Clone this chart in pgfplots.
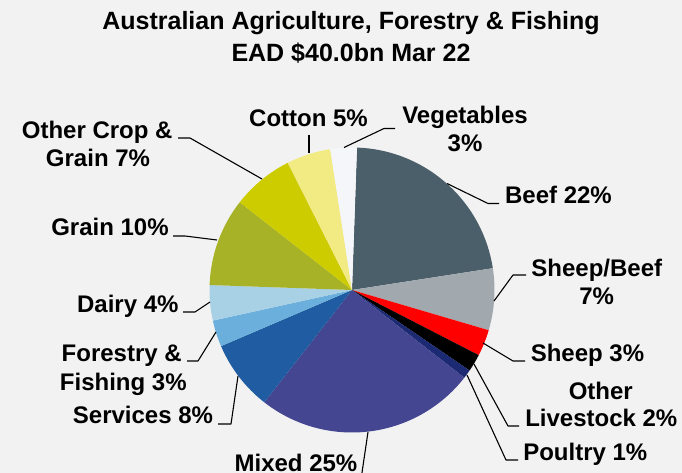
\documentclass[border=0pt]{standalone}
\usepackage{pgfplots}
\usepackage{pgfplotstable}
\pgfplotsset{compat=1.18}
\usepackage{fontspec}
\setmainfont{Liberation Sans}

\definecolor{bg}{HTML}{F2F2F2}
\definecolor{c0}{HTML}{4B5F6B}
\definecolor{c1}{HTML}{A2A9AE}
\definecolor{c2}{HTML}{FF0000}
\definecolor{c3}{HTML}{000000}
\definecolor{c4}{HTML}{1B2A72}
\definecolor{c5}{HTML}{454691}
\definecolor{c6}{HTML}{1F5CA1}
\definecolor{c7}{HTML}{6BAFDC}
\definecolor{c8}{HTML}{A9D1E5}
\definecolor{c9}{HTML}{A7B226}
\definecolor{c10}{HTML}{CCCC00}
\definecolor{c11}{HTML}{F2EA82}
\definecolor{c12}{HTML}{F4F6F9}

% share of EAD, %, clockwise from the top
\pgfplotstableread{
segment value
Beef 22
SheepBeef 7
Sheep 3
OtherLivestock 2
Poultry 1
Mixed 25
Services 8
ForestryFishing 3
Dairy 4
Grain 10
OtherCrop 7
Cotton 5
Vegetables 3
}\piedata

\newcommand\lab{\fontsize{24}{28}\selectfont\bfseries}
\newcommand\ttl{\fontsize{25}{30}\selectfont\bfseries}

\begin{document}
\begin{tikzpicture}
% cumulative angles
\gdef\cum{88}
\pgfplotsforeachungrouped \i in {0,...,12}{%
  \pgfplotstablegetelem{\i}{value}\of\piedata
  \pgfmathsetmacro\endang{\cum-3.6*\pgfplotsretval}%
  \expandafter\xdef\csname sa\i\endcsname{\cum}%
  \expandafter\xdef\csname ea\i\endcsname{\endang}%
  \xdef\cum{\endang}%
}
\begin{axis}[
  width=682pt, height=473pt, scale only axis,
  xmin=0, xmax=682, ymin=0, ymax=473, y dir=reverse,
  hide axis, clip=true,
]
\fill[bg] (axis cs:0,0) rectangle (axis cs:682,473);
\pgfplotsinvokeforeach{0,...,12}{
  \fill[c#1] (axis cs:352,290) -- ++(\csname sa#1\endcsname:142.5pt)
     arc[start angle=\csname sa#1\endcsname, end angle=\csname ea#1\endcsname, radius=142.5pt] -- cycle;
}
% title
\node[anchor=base, font=\ttl] at (axis cs:351,30) {Australian Agriculture, Forestry \& Fishing};
\node[anchor=base, font=\ttl] at (axis cs:351,62) {EAD \$40.0bn Mar 22};
% labels
\node[anchor=base, font=\lab] at (axis cs:97.2,138.3) {Other Crop \&};
\node[anchor=base, font=\lab] at (axis cs:98,166.7) {Grain 7\%};
\node[anchor=base, font=\lab] at (axis cs:110,235.7) {Grain 10\%};
\node[anchor=base, font=\lab] at (axis cs:127.8,312.3) {Dairy 4\%};
\node[anchor=base, font=\lab] at (axis cs:121.7,361.7) {Forestry \&};
\node[anchor=base, font=\lab] at (axis cs:123.3,390) {Fishing 3\%};
\node[anchor=base, font=\lab] at (axis cs:143,423) {Services 8\%};
\node[anchor=base, font=\lab] at (axis cs:296,471) {Mixed 25\%};
\node[anchor=base, font=\lab] at (axis cs:308.5,126.7) {Cotton 5\%};
\node[anchor=base, font=\lab] at (axis cs:465,123.3) {Vegetables};
\node[anchor=base, font=\lab] at (axis cs:465,151.7) {3\%};
\node[anchor=base, font=\lab] at (axis cs:558.5,204) {Beef 22\%};
\node[anchor=base, font=\lab] at (axis cs:596.8,276.7) {Sheep/Beef};
\node[anchor=base, font=\lab] at (axis cs:596.7,304) {7\%};
\node[anchor=base, font=\lab] at (axis cs:587.5,361.7) {Sheep 3\%};
\node[anchor=base, font=\lab] at (axis cs:600.8,399.3) {Other};
\node[anchor=base, font=\lab] at (axis cs:601.3,426.7) {Livestock 2\%};
\node[anchor=base, font=\lab] at (axis cs:585.3,460) {Poultry 1\%};
% leader lines
\begin{scope}[line width=1.1pt, line join=round]
\draw (axis cs:178,138) -- (axis cs:190,138) -- (axis cs:262,179);
\draw (axis cs:173,236) -- (axis cs:185,236) -- (axis cs:217,240);
\draw (axis cs:183,312) -- (axis cs:195,312) -- (axis cs:210,302);
\draw (axis cs:187,361) -- (axis cs:198,361) -- (axis cs:216,332);
\draw (axis cs:218,424) -- (axis cs:231,424) -- (axis cs:238,376);
\draw (axis cs:368,432) -- (axis cs:361.5,476);
\draw (axis cs:518,460) -- (axis cs:506,460) -- (axis cs:467,375);
\draw (axis cs:519,426) -- (axis cs:508,426) -- (axis cs:474,364);
\draw (axis cs:525,361) -- (axis cs:513,361) -- (axis cs:483,343);
\draw (axis cs:526,275) -- (axis cs:513,275) -- (axis cs:494,301);
\draw (axis cs:499,203.5) -- (axis cs:488,203.5) -- (axis cs:447,183.5);
\draw (axis cs:395,128.5) -- (axis cs:384,128.5) -- (axis cs:344,147.5);
\draw (axis cs:309,135) -- (axis cs:309,153);
\end{scope}
\end{axis}
\pgfresetboundingbox
\useasboundingbox (current axis.south west) rectangle (current axis.north east);
\end{tikzpicture}
\end{document}
